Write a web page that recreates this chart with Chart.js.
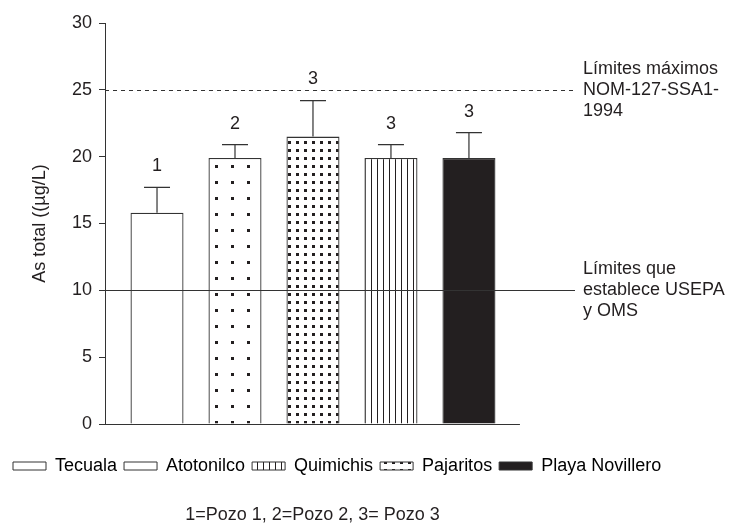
<!DOCTYPE html>
<html lang="es">
<head>
<meta charset="UTF-8">
<title>As total</title>
<script src="https://cdn.jsdelivr.net/npm/chart.js"></script>
<style>
  body { margin: 0; background: #fff; }
  #wrap { width: 735px; height: 526px; }
</style>
</head>
<body>
<div id="wrap"><canvas id="chart"></canvas></div>
<script>
// datos
const sitios = ['Tecuala', 'Atotonilco', 'Quimichis', 'Pajaritos', 'Playa Novillero'];
const asTotal = [15.8, 19.9, 21.5, 19.9, 19.9];
const desvEst = [1.9, 1.0, 2.7, 1.0, 1.9];
const pozos = ['1', '2', '3', '3', '3'];
const yTicks = [0, 5, 10, 15, 20, 25, 30];
const limites = [25, 10];
const limiteTextos = [
  ['Límites máximos', 'NOM-127-SSA1-', '1994'],
  ['Límites que', 'establece USEPA', 'y OMS']
];
const notaPie = '1=Pozo 1, 2=Pozo 2, 3= Pozo 3';

const ink = '#231f20';
const font = { family: "'Liberation Sans', Arial, sans-serif", size: 18 };
const ctx = document.getElementById('chart').getContext('2d');

// tramas de relleno
function tile(w, h, draw) {
  const c = document.createElement('canvas');
  c.width = w; c.height = h;
  const t = c.getContext('2d');
  t.fillStyle = '#fff';
  t.fillRect(0, 0, w, h);
  t.fillStyle = ink;
  draw(t);
  return ctx.createPattern(c, 'repeat');
}
const puntosRalos = tile(16, 16, t => t.fillRect(7, 5, 3, 3));
const puntosDensos = tile(8, 8, t => t.fillRect(0, 5, 3, 3));
const rayas = tile(6, 6, t => t.fillRect(5, 0, 1, 6));
const barFills = ['#fff', puntosRalos, puntosDensos, rayas, ink];
const legendFills = ['#fff', '#fff', rayas, puntosDensos, ink];

const extras = {
  id: 'extras',
  afterDatasetsDraw(chart) {
    const c = chart.ctx;
    const { left, right } = chart.chartArea;
    const xs = chart.scales.x, ys = chart.scales.y;
    const axisEnd = xs.getPixelForValue(5.654);
    c.save();
    c.strokeStyle = '#333';
    c.lineWidth = 1.2;

    // lineas de limite
    limites.forEach((v, i) => {
      const y = Math.round(ys.getPixelForValue(v)) + 0.5;
      c.setLineDash(i === 0 ? [4, 4] : []);
      c.beginPath();
      c.moveTo(left, y);
      c.lineTo(right, y);
      c.stroke();
    });
    c.setLineDash([]);

    // eje x
    const y0 = Math.round(ys.getPixelForValue(0)) + 0.5;
    c.beginPath();
    c.moveTo(left, y0);
    c.lineTo(axisEnd, y0);
    c.stroke();

    // barras de error y numero de pozos
    c.fillStyle = ink;
    c.font = `${font.size}px ${font.family}`;
    c.textAlign = 'center';
    c.textBaseline = 'middle';
    chart.getDatasetMeta(0).data.forEach((bar, i) => {
      const yCap = ys.getPixelForValue(asTotal[i] + desvEst[i]);
      c.beginPath();
      c.moveTo(bar.x, bar.y);
      c.lineTo(bar.x, yCap);
      c.moveTo(bar.x - 13, yCap);
      c.lineTo(bar.x + 13, yCap);
      c.stroke();
      c.fillText(pozos[i], bar.x, yCap - 21);
    });

    // textos de los limites
    c.textAlign = 'left';
    limiteTextos.forEach((lines, i) => {
      const y = ys.getPixelForValue(limites[i]);
      lines.forEach((t, k) => c.fillText(t, right + 8, y + (k - 1) * 21));
    });

    // nota al pie
    c.textAlign = 'center';
    c.fillText(notaPie, (left + axisEnd) / 2, chart.height - 11);
    c.restore();
  }
};

new Chart(ctx, {
  type: 'bar',
  data: {
    datasets: [{
      data: asTotal.map((v, i) => ({ x: i + 1, y: v })),
      backgroundColor: barFills,
      borderColor: '#333',
      borderWidth: 1.3,
      barPercentage: 0.68,
      categoryPercentage: 1
    }]
  },
  options: {
    responsive: true,
    maintainAspectRatio: false,
    animation: false,
    layout: { padding: { left: 6, right: 0, top: 23, bottom: 41 } },
    scales: {
      x: {
        type: 'linear', min: 0.333, max: 6.36, offset: false,
        ticks: { display: false },
        grid: { display: false },
        border: { display: false },
        afterFit: s => { s.height = 26; }
      },
      y: {
        min: 0, max: 30,
        afterBuildTicks: s => { s.ticks = yTicks.map(v => ({ value: v })); },
        ticks: { padding: 7, color: ink, font },
        grid: { drawOnChartArea: false, tickLength: 6, color: '#333' },
        border: { color: '#333' },
        title: { display: true, text: 'As total ((µg/L)', color: ink, font, padding: { top: 23 } },
        afterFit: s => { s.width = 99; }
      },
      y2: {
        position: 'right',
        ticks: { display: false },
        grid: { display: false },
        border: { display: false },
        afterFit: s => { s.width = 160; }
      }
    },
    plugins: {
      legend: {
        position: 'bottom',
        align: 'start',
        labels: {
          boxWidth: 33,
          boxHeight: 8,
          padding: 7,
          color: ink,
          font,
          generateLabels: () => sitios.map((s, i) => ({
            text: s, fillStyle: legendFills[i], strokeStyle: '#333',
            lineWidth: 1, hidden: false, index: i
          }))
        }
      },
      tooltip: { enabled: false }
    }
  },
  plugins: [extras]
});
</script>
</body>
</html>
